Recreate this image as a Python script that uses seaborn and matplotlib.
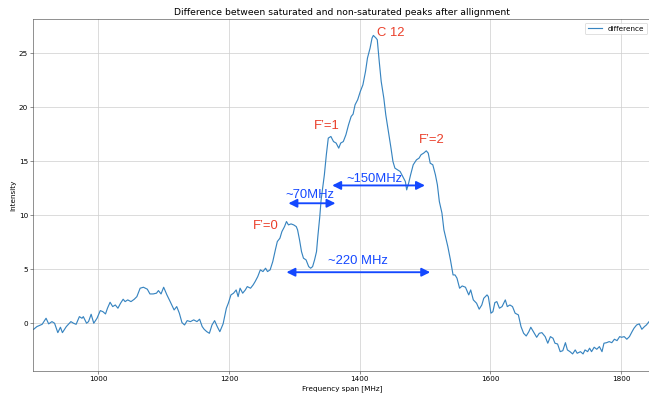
import matplotlib
matplotlib.use("Agg")
import matplotlib.pyplot as plt
import seaborn as sns
import numpy as np

# ---- data ----
freq = [901, 906, 914, 920, 924, 929, 933, 938, 942, 945, 951, 958, 962, 966, 971, 975, 977,
        982, 985, 989, 993, 998, 1003, 1007, 1011, 1014, 1018, 1022, 1026, 1030, 1034, 1038,
        1041, 1045, 1050, 1055, 1059, 1064, 1069, 1075, 1079, 1084, 1089, 1092, 1096, 1100,
        1105, 1110, 1116, 1120, 1124, 1128, 1132, 1136, 1141, 1146, 1151, 1155, 1159, 1162,
        1166, 1170, 1174, 1178, 1182, 1186, 1191,
        1196, 1199, 1203, 1207, 1211, 1214, 1217, 1221, 1225, 1228, 1233, 1237, 1240, 1244,
        1248, 1252, 1256, 1259, 1263, 1267, 1271, 1274, 1278, 1281, 1285, 1288, 1291, 1295,
        1299, 1303, 1305, 1308, 1311, 1314, 1318, 1322, 1325, 1328, 1331, 1334, 1336, 1339,
        1341,
        1346, 1349, 1352, 1356, 1360, 1364, 1368, 1371, 1375, 1379, 1383, 1387, 1390, 1393,
        1397, 1401, 1405, 1409, 1412, 1416, 1419, 1421, 1425, 1427, 1430, 1433, 1437, 1440,
        1444, 1448, 1451, 1454, 1458, 1462, 1466, 1470, 1472, 1475, 1478, 1482, 1487, 1491,
        1494, 1498, 1502, 1505, 1508, 1512, 1516, 1519, 1522,
        1526, 1529, 1535, 1539, 1543, 1546, 1549, 1553, 1557, 1562, 1567, 1570, 1574, 1579,
        1583, 1587, 1590, 1595, 1597, 1601, 1604, 1607, 1610, 1614, 1618, 1623, 1626, 1630,
        1634, 1638, 1643, 1647, 1651, 1655, 1659, 1662, 1666, 1671, 1675, 1679, 1684, 1688,
        1692, 1696, 1699, 1703, 1707, 1711, 1715, 1718, 1722, 1726, 1730, 1733, 1738, 1742,
        1745, 1749, 1752, 1755, 1759, 1763, 1767, 1771, 1774, 1778, 1782, 1786, 1790, 1794,
        1798, 1801, 1805, 1809, 1813, 1817, 1820, 1824, 1828, 1832, 1836, 1839, 1843, 1846]
difference = [-0.56, -0.31, -0.10, 0.46, -0.06, 0.15, 0.00, -0.87, -0.37, -0.87, -0.31, 0.15,
              0.00, -0.10, 0.61, 0.46, 0.61, 0.00, 0.15, 0.83, 0.00, 0.46, 1.17, 1.07, 0.86,
              1.39, 1.94, 1.54, 1.69, 1.39, 1.85, 2.22, 2.00, 2.16, 2.00, 2.22, 2.46, 3.24,
              3.33, 3.15, 2.71, 2.71, 2.78, 3.02, 2.71, 3.33, 2.62, 2.00, 1.23, 1.54, 0.93,
              0.06, -0.16, 0.24, 0.15, 0.31, 0.15, 0.37, -0.31, -0.56, -0.78, -0.93, -0.16,
              0.24, -0.31, -0.78, -0.06,
              1.39, 1.85, 2.62, 2.78, 3.08, 2.46, 3.24, 2.78, 3.08, 3.39, 3.24, 3.55, 3.85,
              4.31, 4.94, 4.78, 5.09, 4.78, 4.94, 5.70, 6.79, 7.56, 7.87, 8.48, 8.94, 9.41,
              9.10, 9.19, 9.10, 8.94, 8.64, 7.71, 6.63, 6.02, 5.86, 5.24, 5.09, 5.24, 5.86,
              6.63, 8.02, 9.87, 11.40,
              13.73, 15.58, 17.13, 17.28, 16.81, 16.67, 16.20, 16.67, 16.81, 17.44, 18.36,
              19.13, 19.35, 20.21, 20.68, 21.44, 22.06, 23.30, 24.54, 25.46, 26.39, 26.63,
              26.39, 26.23, 24.22, 22.37, 20.83, 19.29, 17.74, 16.20, 14.96, 14.35, 14.19,
              14.04, 13.57, 13.11, 12.34, 12.96, 13.73, 14.66, 15.12, 15.28, 15.59, 15.74,
              15.95, 15.74, 14.81, 14.66, 13.73, 12.81, 11.26,
              10.19, 8.64, 7.09, 5.86, 4.47, 4.47, 4.17, 3.24, 3.45, 3.33, 2.62, 3.08, 2.16,
              1.85, 1.30, 1.69, 2.31, 2.62, 2.46, 0.93, 1.07, 1.91, 2.00, 1.39, 1.54, 2.16,
              1.54, 1.69, 1.54, 0.93, 0.77, -0.31, -0.93, -1.18, -0.78, -0.37, -0.78, -1.30,
              -0.93, -0.87, -1.24, -1.85, -1.24, -1.39, -1.85, -1.92, -2.63, -2.54, -1.80,
              -2.47, -2.63, -2.84, -2.47, -2.78, -2.63, -2.84, -2.47, -2.63, -2.31, -2.63,
              -2.22, -2.41, -2.16, -2.63, -1.85, -1.80, -1.70, -1.80, -1.48, -1.61, -1.24,
              -1.30, -1.24, -1.48, -1.24, -0.78, -0.46, -0.16, -0.06, -0.56, -0.31, -0.16,
              0.15, 0.20]

title = "Difference between saturated and non-saturated peaks after allignment"
xlabel = "Frequency span [MHz]"
ylabel = "Intensity"
series_label = "difference"

peak_labels = ["C 12", "F\u2019=1", "F\u2019=2", "F\u2019=0"]
peak_pos = [(1427, 26.85), (1330, 18.27), (1491, 16.97), (1237, 9.0)]

span_labels = ["~70MHz", "~150MHz", "~220 MHz"]
span_text_pos = [(1286, 11.9), (1380, 13.33), (1352, 5.8)]
span_ranges = [(1291, 1363, 11.1), (1358, 1500, 12.75), (1288, 1508, 4.72)]

# ---- figure ----
fig = plt.figure(figsize=(649 / 52, 396 / 52), dpi=52)
ax = fig.add_axes([33 / 649, 25 / 396, (651 - 33) / 649, 352 / 396])

sns.lineplot(x=freq, y=difference, ax=ax, label=series_label, color="#3784c0",
             linewidth=1.6)

ax.set_xlim(900, 1846)
ax.set_ylim(-4.42, 28.15)
ax.set_xticks([1000, 1200, 1400, 1600, 1800])
ax.set_yticks([0, 5, 10, 15, 20, 25])
ax.grid(True, color="#cfcfcf", linewidth=1.0)
ax.set_axisbelow(True)
for s in ax.spines.values():
    s.set_color("#444444")
ax.set_title(title, fontsize=12.8)
ax.set_xlabel(xlabel, fontsize=10)
ax.set_ylabel(ylabel, fontsize=10)
ax.tick_params(labelsize=10, color="#444444")
ax.legend(loc="upper right", fontsize=10)

red = "#ea3f2a"
blue = "#1448ff"
for lab, (x, y) in zip(peak_labels, peak_pos):
    ax.text(x, y, lab, color=red, fontsize=18, ha="left", va="center",
            family=["Liberation Sans", "DejaVu Sans"])
for lab, (x, y) in zip(span_labels, span_text_pos):
    ax.text(x, y, lab, color=blue, fontsize=18, ha="left", va="center",
            family=["Liberation Sans", "DejaVu Sans"])
for (x0, x1, y) in span_ranges:
    ax.annotate("", xy=(x1, y), xytext=(x0, y),
                arrowprops=dict(arrowstyle="<|-|>", color=blue, lw=2.6,
                                mutation_scale=24, shrinkA=0, shrinkB=0))

fig.savefig("out.png", dpi=52)
